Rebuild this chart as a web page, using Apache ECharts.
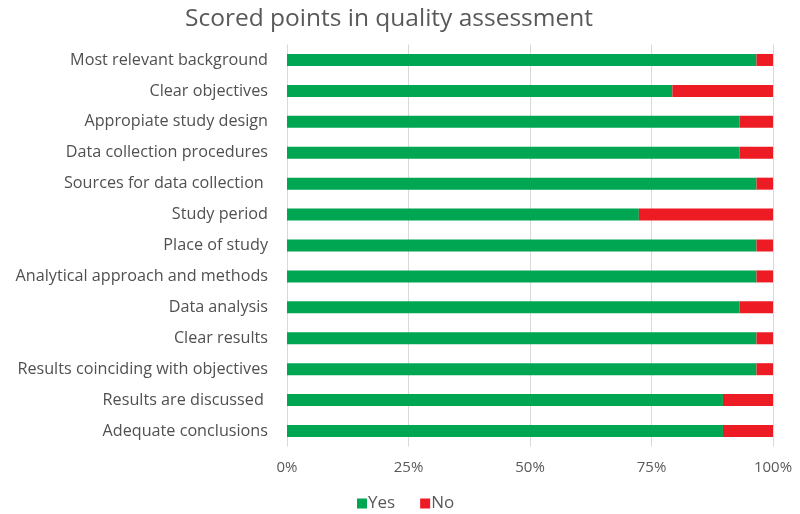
<!DOCTYPE html>
<html>
<head>
<meta charset="utf-8">
<script src="https://cdn.jsdelivr.net/npm/echarts@6/dist/echarts.min.js"></script>
<style>html,body{margin:0;padding:0;background:#fff;}#c{width:800px;height:514px;}</style>
</head>
<body>
<div id="c"></div>
<script>
var categories = [
  "Most relevant background",
  "Clear objectives",
  "Appropiate study design",
  "Data collection procedures",
  "Sources for data collection ",
  "Study period",
  "Place of study",
  "Analytical approach and methods",
  "Data analysis",
  "Clear results",
  "Results coinciding with objectives",
  "Results are discussed ",
  "Adequate conclusions"
];
var yesValues = [96.6, 79.3, 93.1, 93.1, 96.6, 72.4, 96.6, 96.6, 93.1, 96.6, 96.6, 89.7, 89.7];
var noValues  = [3.4, 20.7, 6.9, 6.9, 3.4, 27.6, 3.4, 3.4, 6.9, 3.4, 3.4, 10.3, 10.3];
var xTicks = [0, 25, 50, 75, 100];

var font = "Open Sans";
var chart = echarts.init(document.getElementById('c'), null, {renderer: 'canvas'});
chart.setOption({
  animation: false,
  backgroundColor: '#ffffff',
  title: {
    text: 'Scored points in quality assessment',
    left: 384, top: 2, textAlign: 'center',
    textStyle: {fontFamily: font, fontSize: 24.5, fontWeight: 'normal', color: '#595959'}
  },
  legend: {
    data: ['Yes', 'No'],
    left: 352, top: 490,
    itemWidth: 10, itemHeight: 10, itemGap: 25,
    icon: 'rect',
    textStyle: {fontFamily: font, fontSize: 17, color: '#595959', padding: [0,0,0,-4]}
  },
  grid: {left: 287, right: 27, top: 44.5, bottom: 67.5, containLabel: false},
  xAxis: {
    type: 'value', min: 0, max: 100, interval: 25,
    axisLine: {show: false}, axisTick: {show: false},
    splitLine: {lineStyle: {color: '#d9d9d9', width: 1}},
    axisLabel: {formatter: function(v){ return xTicks.indexOf(v) >= 0 ? v + '%' : ''; }, fontFamily: font, fontSize: 15, color: '#595959', margin: 14}
  },
  yAxis: {
    type: 'category', data: categories, inverse: true,
    axisLine: {show: false}, axisTick: {show: false},
    axisLabel: {fontFamily: font, fontSize: 16.2, color: '#505050', margin: 19}
  },
  series: [
    {name: 'Yes', type: 'bar', stack: 'all', data: yesValues, barWidth: 12, itemStyle: {color: '#00A651'}},
    {name: 'No', type: 'bar', stack: 'all', data: noValues, barWidth: 12, itemStyle: {color: '#ED1C24'}}
  ]
});
</script>
</body>
</html>
